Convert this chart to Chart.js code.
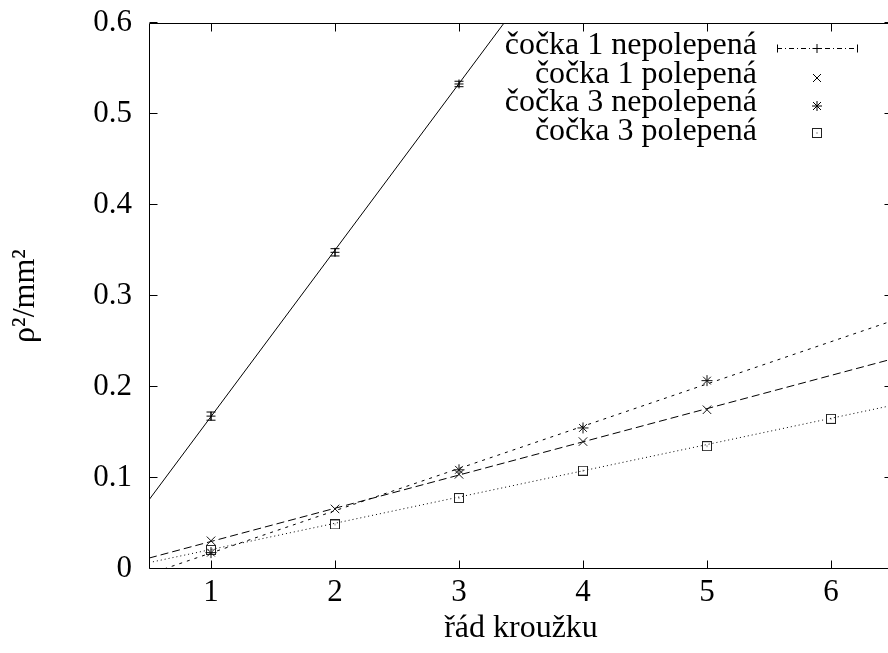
<!DOCTYPE html>
<html><head><meta charset="utf-8">
<script src="https://cdn.jsdelivr.net/npm/chart.js@4.4.0/dist/chart.umd.min.js"></script>
<style>html,body{margin:0;padding:0;overflow:hidden;background:#fff}#wrap{width:900px;height:653px}</style>
</head><body><div id="wrap"><canvas id="c" width="900" height="653"></canvas></div>
<script>
const xTicks = [1, 2, 3, 4, 5, 6];
const yTicks = [0, 0.1, 0.2, 0.3, 0.4, 0.5, 0.6];
const yTickLabels = ['0', '0.1', '0.2', '0.3', '0.4', '0.5', '0.6'];
const legendLabels = ['čočka 1 nepolepená', 'čočka 1 polepená', 'čočka 3 nepolepená', 'čočka 3 polepená'];
const xTitle = 'řád kroužku';
const yTitle = 'ρ²/mm²';

// čočka 1 nepolepená (with error bars)
const s1X = [1, 2, 3];
const s1Y = [0.168, 0.348, 0.533];
const s1Err = [0.0045, 0.004, 0.003];
// čočka 1 polepená
const s2X = [1, 2, 3, 4, 5];
const s2Y = [0.031, 0.066, 0.104, 0.140, 0.175];
// čočka 3 nepolepená
const s3X = [1, 3, 4, 5];
const s3Y = [0.018, 0.109, 0.155, 0.207];
// čočka 3 polepená
const s4X = [1, 2, 3, 4, 5, 6];
const s4Y = [0.021, 0.049, 0.078, 0.108, 0.135, 0.165];

// fitted lines (endpoints)
const fitX = [0.5, 6.5];
const fit1Y = [0.076, 1.174];
const fit2Y = [0.012, 0.231];
const fit3Y = [-0.0056, 0.273];
const fit4Y = [0.007, 0.180];

const FONT = '"Liberation Serif", "Times New Roman", serif';

function squareImg() {
  const c = document.createElement('canvas');
  c.width = 10; c.height = 10;
  const g = c.getContext('2d');
  g.strokeStyle = '#222'; g.lineWidth = 1;
  g.strokeRect(0.5, 0.5, 9, 9);
  g.fillStyle = '#222';
  g.fillRect(4.5, 4.5, 1, 1);
  return c;
}
const SQ = squareImg();

const pts = (xs, ys) => xs.map((x, i) => ({x: x, y: ys[i]}));

const framePlugin = {
  id: 'frame',
  afterDatasetsDraw(chart) {
    const {ctx, chartArea: a, scales: {x, y}} = chart;
    ctx.save();
    ctx.strokeStyle = '#000'; ctx.lineWidth = 1; ctx.setLineDash([]);
    const L = Math.round(a.left) + 0.5, R = Math.round(a.right) - 0.5;
    const T = Math.round(a.top) + 0.5, B = Math.round(a.bottom) - 0.5;
    ctx.beginPath();
    ctx.rect(L, T, R - L, B - T);
    xTicks.forEach(v => {
      const p = Math.round(x.getPixelForValue(v)) + 0.5;
      ctx.moveTo(p, B); ctx.lineTo(p, B - 8);
      ctx.moveTo(p, T); ctx.lineTo(p, T + 8);
    });
    yTicks.forEach(v => {
      const p = Math.round(y.getPixelForValue(v)) - 0.5;
      ctx.moveTo(L, p); ctx.lineTo(L + 8, p);
      ctx.moveTo(R, p); ctx.lineTo(R - 8, p);
    });
    ctx.stroke();
    // error bars for series 1
    ctx.beginPath();
    s1X.forEach((xv, i) => {
      const px = x.getPixelForValue(xv);
      const y1 = y.getPixelForValue(s1Y[i] - s1Err[i]);
      const y2 = y.getPixelForValue(s1Y[i] + s1Err[i]);
      ctx.moveTo(px, y1); ctx.lineTo(px, y2);
      ctx.moveTo(px - 4.5, y1); ctx.lineTo(px + 4.5, y1);
      ctx.moveTo(px - 4.5, y2); ctx.lineTo(px + 4.5, y2);
    });
    ctx.stroke();
    ctx.restore();
  }
};

const legendPlugin = {
  id: 'customLegend',
  afterDraw(chart) {
    const ctx = chart.ctx;
    ctx.save();
    ctx.fillStyle = '#000';
    ctx.font = '32px ' + FONT;
    ctx.textAlign = 'right';
    ctx.textBaseline = 'alphabetic';
    const tx = 757, base0 = 54, step = 28.6, mx = 817;
    legendLabels.forEach((t, i) => ctx.fillText(t, tx, base0 + step * i));
    ctx.strokeStyle = '#000'; ctx.lineWidth = 1;
    // row 1: dash-dot line with caps and +
    let cy = 48.5;
    ctx.beginPath(); ctx.setLineDash([5, 3, 1, 3]);
    ctx.moveTo(777, cy); ctx.lineTo(857, cy); ctx.stroke();
    ctx.setLineDash([]);
    ctx.beginPath();
    ctx.moveTo(777.5, cy - 4); ctx.lineTo(777.5, cy + 4);
    ctx.moveTo(857.5, cy - 4); ctx.lineTo(857.5, cy + 4);
    ctx.moveTo(mx - 4.5, cy); ctx.lineTo(mx + 4.5, cy);
    ctx.moveTo(mx, cy - 4.5); ctx.lineTo(mx, cy + 4.5);
    ctx.stroke();
    // row 2: x
    cy = 78; ctx.beginPath();
    ctx.moveTo(mx - 4, cy - 4); ctx.lineTo(mx + 4, cy + 4);
    ctx.moveTo(mx - 4, cy + 4); ctx.lineTo(mx + 4, cy - 4);
    ctx.stroke();
    // row 3: *
    cy = 106; ctx.beginPath();
    ctx.moveTo(mx - 4, cy - 4); ctx.lineTo(mx + 4, cy + 4);
    ctx.moveTo(mx - 4, cy + 4); ctx.lineTo(mx + 4, cy - 4);
    ctx.moveTo(mx - 5, cy); ctx.lineTo(mx + 5, cy);
    ctx.moveTo(mx, cy - 5); ctx.lineTo(mx, cy + 5);
    ctx.stroke();
    // row 4: square
    cy = 133;
    ctx.drawImage(SQ, Math.round(mx - 5), Math.round(cy - 5));
    ctx.restore();
  }
};

const tickFont = {family: FONT, size: 31};

new Chart(document.getElementById('c'), {
  type: 'scatter',
  data: {
    datasets: [
      {label: legendLabels[0], data: pts(s1X, s1Y), pointStyle: 'cross', pointRadius: 4.5, borderColor: '#000', borderWidth: 1, showLine: false},
      {label: legendLabels[1], data: pts(s2X, s2Y), pointStyle: 'crossRot', pointRadius: 6, borderColor: '#111', borderWidth: 1, showLine: false},
      {label: legendLabels[2], data: pts(s3X, s3Y), pointStyle: 'star', pointRadius: 5.5, borderColor: '#111', borderWidth: 1, showLine: false},
      {label: legendLabels[3], data: pts(s4X, s4Y), pointStyle: SQ, pointRadius: 5, borderColor: '#111', borderWidth: 1, showLine: false},
      {label: 'fit1', data: pts(fitX, fit1Y), showLine: true, pointRadius: 0, borderColor: '#000', borderWidth: 1},
      {label: 'fit2', data: pts(fitX, fit2Y), showLine: true, pointRadius: 0, borderColor: '#000', borderWidth: 1, borderDash: [8, 4]},
      {label: 'fit3', data: pts(fitX, fit3Y), showLine: true, pointRadius: 0, borderColor: '#000', borderWidth: 1, borderDash: [3, 5]},
      {label: 'fit4', data: pts(fitX, fit4Y), showLine: true, pointRadius: 0, borderColor: '#000', borderWidth: 1, borderDash: [1, 3]}
    ]
  },
  options: {
    responsive: false,
    animation: false,
    devicePixelRatio: 1,
    layout: {padding: {left: 0, top: 23, right: 7, bottom: 0}},
    plugins: {legend: {display: false}, tooltip: {enabled: false}},
    scales: {
      x: {
        type: 'linear', min: 0.5, max: 6.5,
        afterBuildTicks: s => { s.ticks = xTicks.map(v => ({value: v})); },
        afterFit: s => { s.height = 84; s.paddingLeft = 0; s.paddingRight = 0; s.paddingTop = 0; s.paddingBottom = 0; },
        grid: {display: false, drawTicks: false},
        border: {display: false},
        ticks: {padding: 5, font: tickFont, color: '#000', maxRotation: 0, autoSkip: false},
        title: {display: true, text: xTitle, font: {family: FONT, size: 32}, color: '#000', padding: {top: 0, bottom: 5}}
      },
      y: {
        type: 'linear', min: 0, max: 0.6,
        afterBuildTicks: s => { s.ticks = yTicks.map(v => ({value: v})); },
        afterFit: s => { s.width = 149; s.paddingTop = 0; s.paddingBottom = 0; s.paddingLeft = 0; s.paddingRight = 0; },
        grid: {display: false, drawTicks: false},
        border: {display: false},
        ticks: {padding: 17, font: tickFont, color: '#000', autoSkip: false, callback: (v, i) => yTickLabels[i]},
        title: {display: true, text: yTitle, font: {family: FONT, size: 32}, color: '#000', padding: {top: 6, bottom: 0}}
      }
    }
  },
  plugins: [framePlugin, legendPlugin]
});
</script></body></html>
